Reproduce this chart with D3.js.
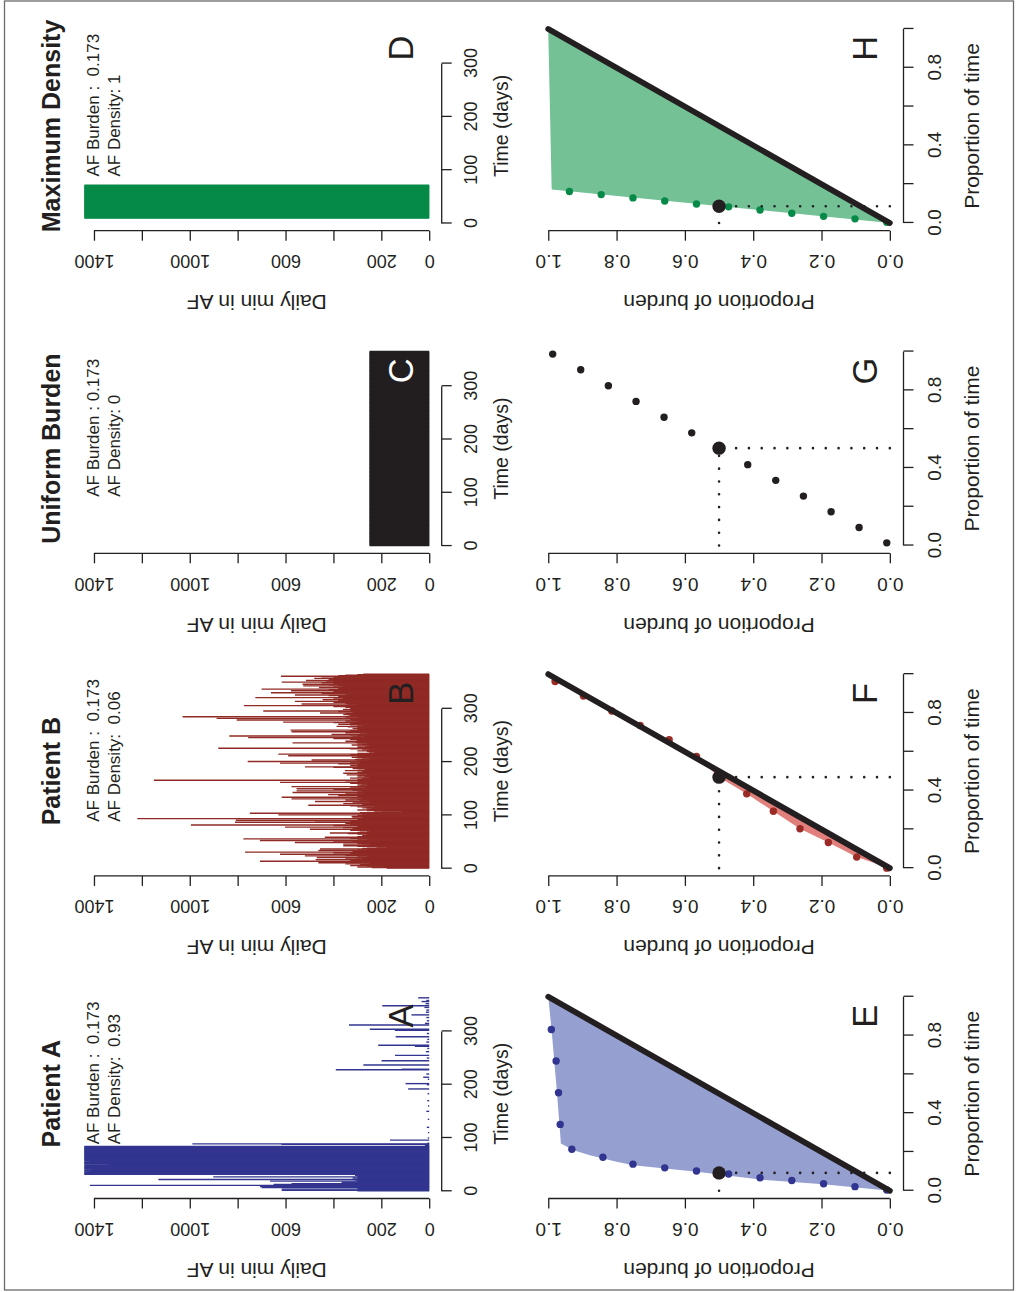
<!DOCTYPE html>
<html lang="en">
<head>
<meta charset="utf-8">
<title>AF burden and density</title>
<script src="https://cdn.jsdelivr.net/npm/d3@7"></script>
<style>
  body { margin: 0; background: #fff; }
  text { font-family: "Liberation Sans", Arial, Helvetica, sans-serif; }
</style>
</head>
<body>
<script>

// ---- data ----

var panelTitles = ["Patient A", "Patient B", "Uniform Burden", "Maximum Density"];
var burdenText = ["AF Burden :  0.173", "AF Burden :  0.173", "AF Burden : 0.173", "AF Burden :  0.173"];
var densityText = ["AF Density:  0.93", "AF Density:  0.06", "AF Density: 0", "AF Density: 1"];
var topLetters = ["A", "B", "C", "D"];
var bottomLetters = ["E", "F", "G", "H"];

var minuteTicks = [0, 200, 400, 600, 800, 1000, 1200, 1400];
var minuteLabels = [0, 200, 600, 1000, 1400];
var dayTicks = [0, 100, 200, 300];
var propTicks = [0, 0.2, 0.4, 0.6, 0.8, 1.0];
var timeLabels = [0, 0.4, 0.8];
var nDays = 365;
var maxMinutes = 1440;

// Patient A: mostly AF free, one long spell early on
var aFullSpell = [32, 84];              // days at 1440 min
var aDipDays = [37, 41, 47, 50, 56];
var aDipMins = [1420, 1410, 1380, 1340, 1420];
var aDays = [1, 2, 3, 4, 5, 6, 7, 8, 9, 10, 11, 12, 13, 14, 15, 16, 17, 18, 19, 20,
  21, 22, 23, 24, 25, 26, 27, 28, 29, 30, 31, 85, 86, 88, 89, 90, 96, 100, 110, 120,
  135, 150, 160, 170, 183, 192, 200, 202, 210, 214, 220, 228, 229, 237, 245, 250, 255,
  262, 268, 272, 274, 280, 285, 290, 296, 302, 304, 312, 315, 320, 326, 331, 336, 340,
  345, 348, 352, 356, 358, 363];
var aMins = [300, 616, 296, 616, 300, 268, 700, 300, 707, 320, 1417, 300, 650, 575, 300,
  320, 366, 300, 665, 300, 310, 1131, 300, 296, 320, 300, 902, 300, 296, 310, 296, 10, 18,
  617, 989, 8, 164, 6, 5, 10, 6, 12, 5, 8, 7, 88, 10, 99, 6, 25, 12, 390, 115, 275, 199,
  10, 143, 14, 8, 60, 213, 12, 8, 140, 10, 143, 248, 335, 18, 10, 12, 74, 14, 12, 20,
  196, 15, 32, 12, 46];

// Patient B: AF every day
var bMins = [
  178, 240, 300, 192, 260, 330, 227, 290, 350, 250,
  463, 300, 380, 707, 330, 260, 474, 310, 280, 350,
  470, 300, 260, 519, 350, 290, 623, 330, 250, 400,
  769, 320, 280, 463, 300, 250, 456, 280, 220, 178,
  260, 300, 359, 280, 250, 359, 300, 270, 561, 320,
  280, 400, 707, 300, 260, 776, 330, 290, 436, 300,
  250, 280, 230, 262, 300, 340, 415, 300, 260, 250,
  290, 330, 260, 498, 320, 280, 360, 602, 300, 260,
  400, 995, 330, 280, 350, 300, 811, 290, 330, 477,
  808, 300, 270, 1219, 320, 280, 250, 324, 260, 300,
  630, 280, 250, 749, 290, 200, 115, 230, 260, 300,
  250, 262, 240, 280, 262, 300, 230, 330, 505, 280,
  260, 359, 300, 250, 320, 477, 290, 260, 350, 300,
  575, 280, 330, 616, 300, 260, 380, 290, 422, 300,
  270, 350, 571, 300, 280, 554, 320, 260, 400, 554,
  300, 270, 330, 575, 290, 250, 300, 260, 282, 330,
  280, 623, 300, 250, 350, 1150, 300, 260, 280, 331,
  250, 300, 270, 240, 300, 345, 260, 290, 359, 250,
  300, 280, 240, 352, 300, 270, 262, 320, 280, 400,
  519, 300, 260, 330, 269, 300, 380, 623, 290, 330,
  758, 300, 260, 491, 310, 280, 250, 300, 324, 270,
  300, 589, 280, 330, 630, 300, 250, 230, 192, 260,
  300, 262, 280, 250, 330, 881, 300, 270, 262, 300,
  250, 324, 280, 300, 260, 571, 310, 280, 350, 303,
  270, 300, 330, 400, 290, 756, 320, 270, 835, 300,
  330, 408, 290, 260, 350, 300, 575, 280, 330, 579,
  300, 270, 320, 248, 300, 340, 387, 300, 280, 330,
  380, 290, 330, 400, 610, 300, 350, 320, 804, 330,
  300, 888, 350, 300, 1030, 340, 300, 330, 359, 300,
  350, 456, 320, 300, 380, 693, 330, 300, 360, 330,
  300, 290, 350, 400, 330, 774, 340, 300, 533, 350,
  330, 400, 300, 561, 340, 380, 445, 330, 360, 400,
  726, 340, 380, 300, 420, 561, 350, 330, 450, 661,
  380, 340, 400, 577, 360, 420, 700, 380, 350, 460,
  400, 360, 526, 380, 420, 529, 400, 360, 450, 616,
  400, 430, 515, 380, 420, 400, 480, 350, 400, 450,
  619, 380, 350, 300, 275];

// Uniform burden: same minutes every day
var uniformMins = 249;
// Maximum density: one unbroken spell
var maxSpell = [10, 72];

// Lower row: proportion of time (x) against proportion of burden (y)
var eCurveTime = [0, 0.034, 0.058, 0.098, 0.132, 0.149, 0.183, 0.209, 0.243, 0.517, 0.825, 1];
var eCurveBurden = [0, 0.195, 0.38, 0.565, 0.751, 0.80, 0.878, 0.926, 0.963, 0.975, 0.99, 1];
var ePointTime = [0.004, 0.021, 0.036, 0.053, 0.067, 0.086, 0.102, 0.118, 0.137, 0.173, 0.214, 0.342, 0.505, 0.669, 0.831];
var ePointBurden = [0.009, 0.102, 0.194, 0.287, 0.380, 0.472, 0.566, 0.659, 0.752, 0.840, 0.931, 0.965, 0.970, 0.977, 0.991];

var fCurveTime = [0, 0.057, 0.132, 0.203, 0.293, 0.383, 0.469, 0.576, 0.662, 0.735, 0.810, 0.887, 0.962, 1];
var fCurveBurden = [0, 0.097, 0.180, 0.263, 0.341, 0.419, 0.5, 0.566, 0.646, 0.731, 0.814, 0.897, 0.980, 1];
var fPointTime = [0.0, 0.057, 0.132, 0.203, 0.293, 0.383, 0.576, 0.662, 0.735, 0.810, 0.887, 0.962];
var fPointBurden = [0.009, 0.097, 0.180, 0.263, 0.341, 0.419, 0.566, 0.646, 0.731, 0.814, 0.897, 0.980];

var gPointTime = [0.014, 0.093, 0.174, 0.255, 0.336, 0.417, 0.581, 0.661, 0.743, 0.824, 0.906, 0.987];
var gPointBurden = [0.009, 0.090, 0.172, 0.253, 0.334, 0.416, 0.580, 0.661, 0.743, 0.824, 0.905, 0.987];

var hCurveTime = [0, 0.172, 0.991, 1];
var hCurveBurden = [0, 0.99, 1, 1];
var hPointTime = [0.003, 0.021, 0.034, 0.050, 0.067, 0.083, 0.098, 0.113, 0.129, 0.146, 0.162];
var hPointBurden = [0.009, 0.102, 0.194, 0.287, 0.380, 0.472, 0.566, 0.659, 0.752, 0.845, 0.938];

// time needed to reach half of the burden
var halfTime = [0.092, 0.469, 0.502, 0.086];
var halfBurden = 0.5;

// ---- build daily series ----

function blankYear() {
  return d3.range(1, nDays + 1).map(function(d) { return { day: d, min: 0 }; });
}

var seriesA = blankYear();
for (var i = aFullSpell[0]; i <= aFullSpell[1]; i++) seriesA[i - 1].min = maxMinutes;
aDipDays.forEach(function(d, k) { seriesA[d - 1].min = aDipMins[k]; });
aDays.forEach(function(d, k) { seriesA[d - 1].min = aMins[k]; });

var seriesB = bMins.map(function(m, k) { return { day: k + 1, min: m }; });
var seriesC = blankYear().map(function(d) { return { day: d.day, min: uniformMins }; });
var seriesD = blankYear();
for (var j = maxSpell[0]; j <= maxSpell[1]; j++) seriesD[j - 1].min = maxMinutes;

function zipPts(t, b) { return t.map(function(v, k) { return [v, b[k]]; }); }
// keep the doubled spaces of the original labels
function keepSpaces(s) { return s.replace(/ /g, "\u00a0"); }

// ---- styling ----

var black = "#231f20";
var topPanels = [
  { series: seriesA, color: "#32358f", letterColor: black },
  { series: seriesB, color: "#8f2a25", letterColor: black },
  { series: seriesC, color: black, letterColor: "#ffffff" },
  { series: seriesD, color: "#078a47", letterColor: black }
];
var bottomPanels = [
  { curve: zipPts(eCurveTime, eCurveBurden), pts: zipPts(ePointTime, ePointBurden), fill: "#959fd0", dot: "#32358f", diag: true },
  { curve: zipPts(fCurveTime, fCurveBurden), pts: zipPts(fPointTime, fPointBurden), fill: "#e07f7b", dot: "#9a2b27", diag: true },
  { curve: null, pts: zipPts(gPointTime, gPointBurden), fill: null, dot: black, diag: false },
  { curve: zipPts(hCurveTime, hCurveBurden), pts: zipPts(hPointTime, hPointBurden), fill: "#74c196", dot: "#078a47", diag: true }
];

var W = 1019, H = 1292;
var plotX0 = 93.5, colStep = 322.6, plotW = 209.5;
var topTop = 70.6, topBottom = 443, topAxisY = 441.7;
var botTop = 534.6, botBottom = 903.5;
var yTitleOffset = 64.2;

var svg = d3.select("body").append("svg")
  .attr("width", W)
  .attr("height", H);

svg.append("rect")
  .attr("x", 4.5).attr("y", 1)
  .attr("width", 1009).attr("height", 1289)
  .attr("fill", "none")
  .attr("stroke", "#6a6a6a")
  .attr("stroke-width", 1.3);

// the figure is laid out in landscape and turned a quarter turn
var fig = svg.append("g")
  .attr("transform", "translate(0," + H + ") rotate(-90)");

function ext(lo, hi) { var e = (hi - lo) * 0.04; return [lo - e, hi + e]; }

function styleLeftAxis(ga, fontSize) {
  ga.attr("color", black).attr("font-size", null).attr("font-family", null);
  ga.select(".domain").remove();
  ga.selectAll(".tick line").attr("stroke-width", 1.3);
  ga.selectAll(".tick text")
    .attr("x", null).attr("dy", null)
    .attr("transform", "translate(-24.5,0) rotate(-90)")
    .attr("text-anchor", "middle")
    .attr("fill", black)
    .style("font-size", fontSize + "px");
}

function styleBottomAxis(ga, labelY, fontSize) {
  ga.attr("color", black).attr("font-size", null).attr("font-family", null);
  ga.select(".domain").remove();
  ga.selectAll(".tick line").attr("stroke-width", 1.3);
  ga.selectAll(".tick text")
    .attr("y", labelY).attr("dy", null)
    .attr("fill", black)
    .style("font-size", fontSize + "px");
}

// ---- top row: daily minutes in AF ----

topPanels.forEach(function(p, c) {
  var left = plotX0 + c * colStep;
  var x = d3.scaleLinear().domain(ext(1, nDays)).range([left, left + plotW]);
  var y = d3.scaleLinear().domain(ext(0, maxMinutes)).range([topBottom, topTop]);
  var g = fig.append("g");

  g.selectAll("line.bar")
    .data(p.series.filter(function(d) { return d.min > 0; }))
    .join("line")
    .attr("class", "bar")
    .attr("x1", function(d) { return x(d.day); })
    .attr("x2", function(d) { return x(d.day); })
    .attr("y1", y(0))
    .attr("y2", function(d) { return y(d.min); })
    .attr("stroke", p.color)
    .attr("stroke-width", 1.4);

  var yAxis = d3.axisLeft(y).tickValues(minuteTicks).tickSize(10).tickSizeOuter(0)
    .tickFormat(function(d) { return minuteLabels.indexOf(d) >= 0 ? d : ""; });
  var gy = g.append("g").attr("transform", "translate(" + left + ",0)").call(yAxis);
  styleLeftAxis(gy, 18);
  gy.append("line").attr("y1", y(0)).attr("y2", y(1400))
    .attr("stroke", black).attr("stroke-width", 1.3);

  var xAxis = d3.axisBottom(x).tickValues(dayTicks).tickSize(10).tickSizeOuter(0);
  var gx = g.append("g").attr("transform", "translate(0," + topAxisY + ")").call(xAxis);
  styleBottomAxis(gx, 35, 18);
  gx.append("line").attr("x1", x(0)).attr("x2", x(300))
    .attr("stroke", black).attr("stroke-width", 1.3);

  var mid = left + plotW / 2;
  g.append("text").attr("x", mid).attr("y", 59.5)
    .attr("text-anchor", "middle").attr("font-weight", "bold")
    .style("font-size", "25px").attr("fill", black)
    .text(panelTitles[c]);

  var leg = g.append("g");
  var l1 = leg.append("text").attr("y", 99.3).style("font-size", "17px")
    .attr("fill", black).text(keepSpaces(burdenText[c]));
  var l2 = leg.append("text").attr("y", 119.5).style("font-size", "17px")
    .attr("fill", black).text(keepSpaces(densityText[c]));
  var wMax = Math.max(l1.node().getComputedTextLength(), l2.node().getComputedTextLength());
  leg.selectAll("text").attr("x", left + 125.5 - wMax / 2);

  g.append("text").attr("x", x(329)).attr("y", y(66))
    .attr("text-anchor", "middle").style("font-size", "34.5px")
    .attr("fill", p.letterColor).text(topLetters[c]);

  g.append("text").attr("x", mid).attr("y", 507.5)
    .attr("text-anchor", "middle").style("font-size", "19.5px").attr("fill", black)
    .text("Time (days)");

  g.append("text")
    .attr("transform", "translate(" + (left - yTitleOffset) + "," + ((topTop + topBottom) / 2) + ") rotate(-90)")
    .attr("text-anchor", "middle").style("font-size", "21px").attr("fill", black)
    .text("Daily min in AF");
});

// ---- bottom row: proportion of burden against proportion of time ----

bottomPanels.forEach(function(p, c) {
  var left = plotX0 + c * colStep;
  var x = d3.scaleLinear().domain(ext(0, 1)).range([left, left + plotW]);
  var y = d3.scaleLinear().domain(ext(0, 1)).range([botBottom, botTop]);
  var g = fig.append("g");
  var line = d3.line().x(function(d) { return x(d[0]); }).y(function(d) { return y(d[1]); });

  if (p.curve) {
    g.append("path").attr("d", line(p.curve) + "Z").attr("fill", p.fill).attr("stroke", "none");
  }

  g.selectAll("circle.pt").data(p.pts).join("circle")
    .attr("class", "pt")
    .attr("cx", function(d) { return x(d[0]); })
    .attr("cy", function(d) { return y(d[1]); })
    .attr("r", 3.7)
    .attr("fill", p.dot);

  if (p.diag) {
    g.append("path").attr("d", line([[0, 0], [1, 1]]))
      .attr("stroke", black).attr("stroke-width", 5.8)
      .attr("stroke-linecap", "round").attr("fill", "none");
  }

  // dotted guides from the axes to the half-burden point
  var ht = halfTime[c];
  g.append("path").attr("d", line([[ht, 0], [ht, halfBurden]]))
    .attr("stroke", black).attr("stroke-width", 2.6).attr("fill", "none")
    .attr("stroke-linecap", "round").attr("stroke-dasharray", "0.01 12.8");
  g.append("path").attr("d", line([[0, halfBurden], [ht, halfBurden]]))
    .attr("stroke", black).attr("stroke-width", 2.6).attr("fill", "none")
    .attr("stroke-linecap", "round").attr("stroke-dasharray", "0.01 12.8");
  g.append("circle").attr("cx", x(ht)).attr("cy", y(halfBurden)).attr("r", 6.7).attr("fill", black);

  var yAxis = d3.axisLeft(y).tickValues(propTicks).tickSize(10).tickSizeOuter(0)
    .tickFormat(d3.format(".1f"));
  var gy = g.append("g").attr("transform", "translate(" + left + ",0)").call(yAxis);
  styleLeftAxis(gy, 19);
  gy.append("line").attr("y1", y(0)).attr("y2", y(1))
    .attr("stroke", black).attr("stroke-width", 1.3);

  var xAxis = d3.axisBottom(x).tickValues(propTicks).tickSize(10).tickSizeOuter(0)
    .tickFormat(function(d) { return timeLabels.indexOf(d) >= 0 ? d3.format(".1f")(d) : ""; });
  var gx = g.append("g").attr("transform", "translate(0," + botBottom + ")").call(xAxis);
  styleBottomAxis(gx, 37, 19);
  gx.append("line").attr("x1", x(0)).attr("x2", x(1))
    .attr("stroke", black).attr("stroke-width", 1.3);

  var mid = left + plotW / 2;
  g.append("text").attr("x", x(0.9)).attr("y", y(0.0385))
    .attr("text-anchor", "middle").style("font-size", "34.5px").attr("fill", black)
    .text(bottomLetters[c]);

  g.append("text").attr("x", mid).attr("y", 979)
    .attr("text-anchor", "middle").style("font-size", "21px").attr("fill", black)
    .text("Proportion of time");

  g.append("text")
    .attr("transform", "translate(" + (left - yTitleOffset) + "," + ((botTop + botBottom) / 2) + ") rotate(-90)")
    .attr("text-anchor", "middle").style("font-size", "21px").attr("fill", black)
    .text("Proportion of burden");
});

</script>
</body>
</html>
